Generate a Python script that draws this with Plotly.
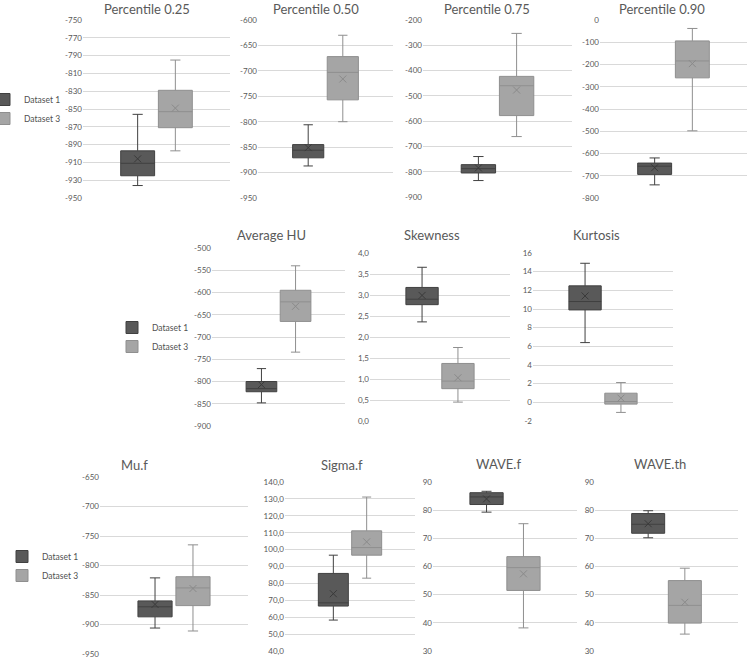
import plotly.graph_objects as go

W, H = 749, 662

# ---------------- data ----------------
panel_titles = ["Percentile 0.25", "Percentile 0.50", "Percentile 0.75", "Percentile 0.90",
                "Average HU", "Skewness", "Kurtosis",
                "Mu.f", "Sigma.f", "WAVE.f", "WAVE.th"]
series_names = ["Dataset 1", "Dataset 3"]

d1_min  = [-936, -887, -835, -741, -848, 2.36, 6.4, -906, 58.3, 79.3, 70.2]
d1_q1   = [-925, -871, -805, -694, -823, 2.77, 9.9, -887, 66.6, 82.0, 71.8]
d1_med  = [-911, -856, -788, -657, -816, 2.90, 10.8, -870, 68.5, 84.7, 75.0]
d1_q3   = [-897, -845, -772, -643, -800, 3.18, 12.48, -860, 85.9, 86.2, 78.8]
d1_max  = [-856, -806, -740, -620, -771, 3.66, 14.9, -821, 96.7, 86.7, 79.8]
d1_mean = [-906, -851, -785, -664, -807, 2.99, 11.4, -866, 73.9, 84.0, 75.2]

d3_min  = [-897, -800, -661, -498, -734, 0.45, -1.08, -911, 83.1, 38.2, 36.0]
d3_q1   = [-871, -757, -578, -260, -665, 0.77, -0.19, -868, 96.7, 51.5, 39.9]
d3_med  = [-853, -703, -460, -184, -621, 0.95, 0.09, -838, 101.2, 59.6, 46.2]
d3_q3   = [-829, -672, -423, -94, -595, 1.37, 0.98, -819, 111.1, 63.5, 55.0]
d3_max  = [-795, -630, -253, -38, -540, 1.75, 2.12, -765, 131.1, 75.2, 59.4]
d3_mean = [-849, -716, -477, -196, -631, 1.03, 0.45, -839, 104.6, 57.4, 47.3]

y_min  = [-950, -950, -900, -800, -900, 0, -2, -950, 40, 30, 30]
y_max  = [-750, -600, -200, 0, -500, 4, 16, -650, 140, 90, 90]
y_step = [20, 50, 100, 100, 50, 0.5, 2, 50, 10, 10, 10]
y_decimals = [0, 0, 0, 0, 0, 1, 0, 0, 1, 0, 0]

# ---------------- layout (pixels) ----------------
panel_px = [(83, 230, 20, 198), (258, 393, 20, 198), (423, 572, 20, 197), (600, 747, 20, 198),
            (212, 345, 248, 426), (370, 510, 253, 421), (533, 673, 253, 421),
            (100, 248, 477, 654), (285, 415, 482, 651), (433, 577, 482, 651), (595, 738, 482, 651)]
title_px = [(147, 9), (316, 9), (487, 9), (662, 9),
            (271, 235), (432, 235), (596, 235),
            (134, 465), (342, 465), (498, 464), (660, 464)]
legend_panels = {0: "legend", 4: "legend2", 7: "legend3"}

fill_cols = ["#595959", "#a5a5a5"]
line_cols = ["#404040", "#8f8f8f"]
mean_cols = ["#3a3a3a", "#8a8a8a"]
txt = "#595959"
FONT = "Lato"


def fmt_tick(v, dec):
    s = f"{v:.{dec}f}".replace(".", ",")
    return "0" if s in ("-0", "-0,0") and dec == 0 else s.replace("-0,0", "0,0")


fig = go.Figure()
stats = [(d1_min, d1_q1, d1_med, d1_q3, d1_max, d1_mean),
         (d3_min, d3_q1, d3_med, d3_q3, d3_max, d3_mean)]

annotations = []
for i, title in enumerate(panel_titles):
    n = "" if i == 0 else str(i + 1)
    xa, ya = "x" + n, "y" + n
    for s, name in enumerate(series_names):
        mn, q1, md, q3, mx, me = (arr[i] for arr in stats[s])
        leg = legend_panels.get(i)
        fig.add_trace(go.Box(
            x=[name], q1=[q1], median=[md], q3=[q3], lowerfence=[mn], upperfence=[mx],
            name=name, fillcolor=fill_cols[s], line=dict(color=line_cols[s], width=1),
            whiskerwidth=0.3, width=0.9, boxpoints=False,
            xaxis=xa, yaxis=ya, showlegend=leg is not None, legend=leg or "legend",
            hoverinfo="skip"))
        fig.add_trace(go.Scatter(
            x=[name], y=[me], mode="markers", showlegend=False,
            marker=dict(symbol="x-thin", size=7, line=dict(color=mean_cols[s], width=1)),
            xaxis=xa, yaxis=ya, hoverinfo="skip"))
    x0, x1, t, b = panel_px[i]
    nt = int(round((y_max[i] - y_min[i]) / y_step[i]))
    tv = [round(y_min[i] + k * y_step[i], 6) for k in range(nt + 1)]
    tt = [fmt_tick(v, y_decimals[i]) for v in tv]
    fig.layout["xaxis" + n] = dict(
        domain=[x0 / W, x1 / W], anchor=ya, type="category",
        categoryorder="array", categoryarray=series_names,
        range=[-1.45, 2.45], showticklabels=False, showgrid=False, zeroline=False,
        showline=False, ticks="", fixedrange=True)
    fig.layout["yaxis" + n] = dict(
        domain=[1 - b / H, 1 - t / H], anchor=xa, range=[y_min[i], y_max[i]],
        tickmode="array", tickvals=tv, ticktext=tt,
        showgrid=True, gridcolor="#d9d9d9", gridwidth=1, zeroline=False, showline=False,
        ticks="", ticklen=0, tickfont=dict(family=FONT, size=8, color=txt), fixedrange=True)
    tx, ty = title_px[i]
    annotations.append(dict(
        text=title, x=tx / W, y=1 - ty / H, xref="paper", yref="paper",
        xanchor="center", yanchor="middle", showarrow=False,
        font=dict(family=FONT, size=13, color=txt)))

leg_common = dict(xanchor="left", yanchor="top", bgcolor="rgba(0,0,0,0)",
                  font=dict(family=FONT, size=8.5, color="#505050"), tracegroupgap=0)
fig.update_layout(
    width=W, height=H, margin=dict(l=0, r=0, t=0, b=0, autoexpand=False),
    paper_bgcolor="white", plot_bgcolor="white",
    boxmode="overlay", hovermode=False,
    annotations=annotations,
    legend=dict(x=-16 / W, y=1 - 85 / H, **leg_common),
    legend2=dict(x=112 / W, y=1 - 313 / H, **leg_common),
    legend3=dict(x=2 / W, y=1 - 542 / H, **leg_common),
    font=dict(family=FONT, color=txt),
)

fig.write_html("out.html", config={"displayModeBar": False, "staticPlot": False},
               post_script="document.body.style.margin='0px';")
